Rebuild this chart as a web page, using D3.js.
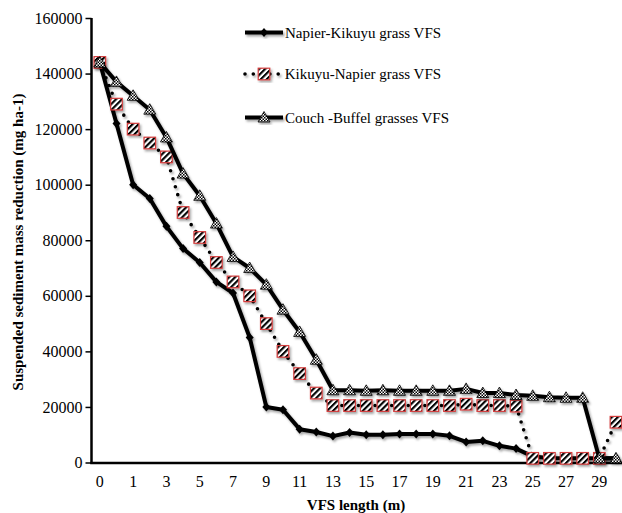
<!DOCTYPE html>
<html><head><meta charset="utf-8">
<script src="https://cdn.jsdelivr.net/npm/d3@7"></script>
<style>
html,body{margin:0;padding:0;background:#fff;}
svg{display:block;font-family:"Liberation Serif","Times New Roman",serif;}
</style></head>
<body><svg id="c" width="622" height="513"></svg>
<script>
const categories = ["0","0.5","1","2","3","4","5","6","7","8","9","10","11","12","13","14","15","16","17","18","19","20","21","22","23","24","25","26","27","28","29","30"];
const xTickLabels = ["0","1","3","5","7","9","11","13","15","17","19","21","23","25","27","29"];
const yTicks = [0,20000,40000,60000,80000,100000,120000,140000,160000];
const seriesNames = ["Napier-Kikuyu grass VFS"," Kikuyu-Napier grass VFS","Couch -Buffel grasses VFS"];
const napier = [144000,122000,100000,95000,85000,77000,72000,65000,61000,45000,20000,19000,12000,11000,9500,10800,10000,10000,10300,10300,10300,9600,7400,7800,6000,5000,2200,1600,1500,1500,1500,1500];
const kikuyu = [144000,129000,120000,115000,110000,90000,81000,72000,65000,60000,50000,40000,32000,25000,20500,20500,20500,20500,20500,20500,20500,20500,21000,20500,20500,20300,1500,1500,1500,1500,1500,14500];
const couch = [144000,137000,132000,127000,117000,104000,96000,86000,74000,70000,64000,55000,47000,37000,26000,26000,25800,26000,25800,25800,25800,25800,26500,25000,25000,24300,24000,23500,23300,23300,1500,1500];

const svg = d3.select("#c");
const defs = svg.append("defs");
const hatch = defs.append("pattern").attr("id","hatch").attr("patternUnits","userSpaceOnUse")
  .attr("width",4.2).attr("height",4.2).attr("patternTransform","rotate(45)");
hatch.append("rect").attr("width",4.2).attr("height",4.2).attr("fill","#fff");
hatch.append("rect").attr("width",2.1).attr("height",4.2).attr("fill","#000");
const chk = defs.append("pattern").attr("id","chk").attr("patternUnits","userSpaceOnUse")
  .attr("width",3).attr("height",3);
chk.append("rect").attr("width",3).attr("height",3).attr("fill","#fff");
chk.append("rect").attr("width",1.5).attr("height",1.5).attr("fill","#000");
chk.append("rect").attr("x",1.5).attr("y",1.5).attr("width",1.5).attr("height",1.5).attr("fill","#000");
const sh = defs.append("filter").attr("id","sh").attr("x","-10%").attr("y","-10%").attr("width","130%").attr("height","130%");
sh.append("feDropShadow").attr("dx",1.5).attr("dy",2).attr("stdDeviation",1.2).attr("flood-color","#000").attr("flood-opacity",0.35);

const x = d3.scaleBand().domain(categories).range([91.5, 91.5 + 32*16.65]);
const cx = c => x(c) + x.bandwidth()/2;
const y = d3.scaleLinear().domain([0,160000]).range([462.5,18]);

// axes
const yAxis = svg.append("g").attr("transform","translate(91.5,0)")
  .call(d3.axisLeft(y).tickValues(yTicks).tickFormat(d3.format("d")).tickSize(6).tickPadding(3));
yAxis.select(".domain").attr("stroke","#000").attr("stroke-width",2.5).attr("d","M0,18V463.5");
yAxis.selectAll(".tick line").attr("stroke","#000").attr("stroke-width",1.5);
yAxis.selectAll("text").attr("font-size",16).attr("font-family","Liberation Serif").attr("fill","#000");

const xAxis = svg.append("g").attr("transform","translate(0,463)")
  .call(d3.axisBottom(x).tickValues(categories.filter(c => xTickLabels.includes(c))).tickSize(0).tickPadding(13));
xAxis.select(".domain").attr("stroke","#000").attr("stroke-width",2.5).attr("d","M90.2,0H624");
xAxis.selectAll("text").attr("font-size",16).attr("font-family","Liberation Serif").attr("fill","#000");

svg.append("text").attr("x",356).attr("y",510).attr("text-anchor","middle")
  .attr("font-size",15).attr("font-weight","bold").text("VFS length (m)");
svg.append("text").attr("transform","translate(23,242) rotate(-90)").attr("text-anchor","middle")
  .attr("font-size",15).attr("font-weight","bold").text("Suspended sediment mass reduction (mg ha-1)");

const line = d3.line().x((d,i) => cx(categories[i])).y(d => y(d));

function diamond(g, px, py){ g.append("path").attr("d",`M${px},${py-4.5}L${px+4},${py}L${px},${py+4.5}L${px-4},${py}Z`).attr("fill","#000"); }
function square(g, px, py){ g.append("rect").attr("x",px-5.8).attr("y",py-5.8).attr("width",11.6).attr("height",11.6).attr("fill","url(#hatch)").attr("stroke","#d43c3c").attr("stroke-width",1.2); }
function tri(g, px, py){ g.append("path").attr("d",`M${px},${py-6}L${px+6},${py+4.5}L${px-6},${py+4.5}Z`).attr("fill","url(#chk)").attr("stroke","#000").attr("stroke-width",0.8); }

// Napier
const g1 = svg.append("g").attr("filter","url(#sh)");
g1.append("path").datum(napier).attr("d",line).attr("fill","none").attr("stroke","#000").attr("stroke-width",4).attr("stroke-linejoin","round");
napier.forEach((v,i) => diamond(g1, cx(categories[i]), y(v)));
// Kikuyu
const g2 = svg.append("g").attr("filter","url(#sh)");
g2.append("path").datum(kikuyu).attr("d",line).attr("fill","none").attr("stroke","#000").attr("stroke-width",3.6).attr("stroke-linecap","round").attr("stroke-dasharray","0,8.3");
kikuyu.forEach((v,i) => square(g2, cx(categories[i]), y(v)));
// Couch
const g3 = svg.append("g").attr("filter","url(#sh)");
g3.append("path").datum(couch).attr("d",line).attr("fill","none").attr("stroke","#000").attr("stroke-width",4).attr("stroke-linejoin","round");
couch.forEach((v,i) => tri(g3, cx(categories[i]), y(v)));

// legend
const lg = svg.append("g");
const rows = [32.5, 74, 117.5];
const l1 = lg.append("g").attr("filter","url(#sh)");
l1.append("line").attr("x1",245).attr("x2",283).attr("y1",rows[0]).attr("y2",rows[0]).attr("stroke","#000").attr("stroke-width",4);
diamond(l1, 264, rows[0]);
const l2 = lg.append("g").attr("filter","url(#sh)");
l2.append("line").attr("x1",245).attr("x2",279).attr("y1",rows[1]).attr("y2",rows[1]).attr("stroke","#000").attr("stroke-width",3.6).attr("stroke-linecap","round").attr("stroke-dasharray","0,8.3");
square(l2, 264, rows[1]);
const l3 = lg.append("g").attr("filter","url(#sh)");
l3.append("line").attr("x1",245).attr("x2",283).attr("y1",rows[2]).attr("y2",rows[2]).attr("stroke","#000").attr("stroke-width",4);
tri(l3, 264, rows[2]);
seriesNames.forEach((n,i) => {
  lg.append("text").attr("x", i===1 ? 281 : 285).attr("y", rows[i]+5).attr("font-size",15).attr("xml:space","preserve").style("white-space","pre").text(n);
});
</script></body></html>
